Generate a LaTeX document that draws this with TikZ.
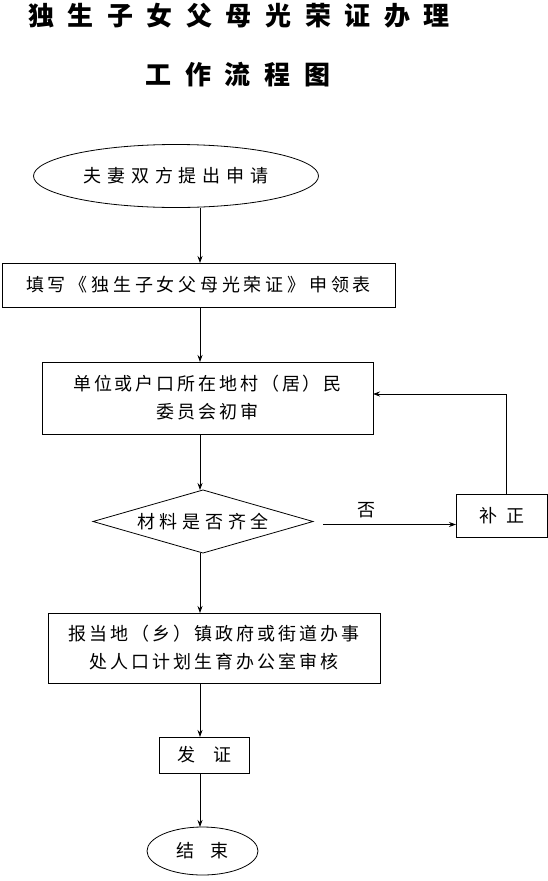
\documentclass[tikz,border=0pt]{standalone}
\usepackage{fontspec}
\setmainfont{Noto Sans CJK SC}
\newfontfamily\titlefont[LetterSpace=52]{Noto Sans CJK SC Black}
\newcommand{\cjkls}[1]{\fontspec[LetterSpace=#1]{Noto Sans CJK SC}\fontsize{18}{28}\selectfont}
\XeTeXlinebreaklocale "zh"
\usetikzlibrary{shapes.geometric,arrows.meta}
\tikzset{
  every node/.style={inner sep=0pt, outer sep=0pt},
  flowbox/.style={draw, line width=0.8pt, font=\cjkls{0}, align=center},
  terminal/.style={flowbox, ellipse},
  decision/.style={flowbox, diamond, aspect=3.4},
  arr/.style={draw, line width=0.8pt, -{Stealth[length=7pt,width=5pt]}},
  titletext/.style={font=\titlefont\fontsize{26}{30}\selectfont}
}
\begin{document}
\begin{tikzpicture}[x=1pt,y=1pt]
\useasboundingbox (0,0) rectangle (548,-881);
\node[titletext] (t1) at (239,-16) {独生子女父母光荣证办理};
\node[titletext] (t2) at (238,-75) {工作流程图};

\coordinate (ax) at (200,0);

\node[terminal, minimum width=285pt, minimum height=63pt, font=\cjkls{32}] (start) at (176,-176) {夫妻双方提出申请};
\node[flowbox, minimum width=393pt, minimum height=44pt, font=\cjkls{21}] (fill) at (198.5,-285) {填写《独生子女父母光荣证》申领表};
\node[flowbox, minimum width=331pt, minimum height=72pt, font=\cjkls{16}] (unit) at (207.5,-398) {单位或户口所在地村（居）民\\委员会初审};
\node[decision, minimum width=220pt, minimum height=63pt, font=\cjkls{26}] (check) at (203,-521.5) {材料是否齐全};
\node[flowbox, minimum width=91pt, minimum height=43pt] (fix) at (501.5,-515.5) {补\hspace{0.5em}正};
\node[flowbox, minimum width=332pt, minimum height=70pt, font=\cjkls{17}] (town) at (214,-648) {报当地（乡）镇政府或街道办事\\处人口计划生育办公室审核};
\node[flowbox, minimum width=90pt, minimum height=36pt] (issue) at (204,-755) {发\hspace{1em}证};
\node[terminal, minimum width=111pt, minimum height=48pt] (end) at (202.5,-851) {结\hspace{0.85em}束};

\coordinate (fixtop) at (506,-394);

\draw[arr] (start.south -| ax) -- (fill.north -| ax);
\draw[arr] (fill.south -| ax) -- (unit.north -| ax);
\draw[arr] (unit.south -| ax) -- (check.north -| ax);
\draw[arr] (check.east) ++(10,-3) coordinate (ce) -- (fix.west |- ce) node[pos=0.33, above=7pt, font=\cjkls{0}] (no) {否};
\draw[arr] (fix.north -| fixtop) -- (fixtop) -- (unit.east |- fixtop);
\draw[arr] (check.south -| ax) -- (town.north -| ax);
\draw[arr] (town.south -| ax) -- (issue.north -| ax);
\draw[arr] (issue.south -| ax) -- (end.north -| ax);
\end{tikzpicture}
\end{document}
